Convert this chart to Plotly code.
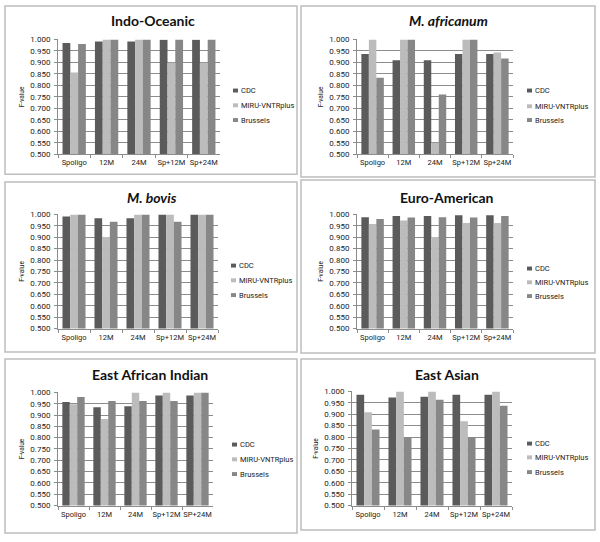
import plotly.graph_objects as go

W, H = 600, 542

categories = ["Spoligo", "12M", "24M", "Sp+12M", "Sp+24M"]
tick_labels_eai = ["Spoligo", "12M", "24M", "Sp+12M", "SP+24M"]
series_names = ["CDC", "MIRU-VNTRplus", "Brussels"]

panel_titles = ["<b>Indo-Oceanic</b>", "<b><i>M. africanum</i></b>", "<b><i>M. bovis</i></b>",
                "<b>Euro-American</b>", "<b>East African Indian</b>", "<b>East Asian</b>"]

indo_cdc = [0.984, 0.991, 0.991, 0.998, 0.998]
indo_miru = [0.856, 1.000, 1.000, 0.899, 0.899]
indo_bru = [0.980, 1.000, 1.000, 1.000, 1.000]

afr_cdc = [0.937, 0.909, 0.909, 0.937, 0.937]
afr_miru = [1.000, 1.000, 0.551, 1.000, 0.943]
afr_bru = [0.833, 1.000, 0.761, 1.000, 0.917]

bovis_cdc = [0.991, 0.983, 0.983, 1.000, 1.000]
bovis_miru = [1.000, 0.901, 1.000, 1.000, 1.000]
bovis_bru = [1.000, 0.968, 1.000, 0.968, 1.000]

euro_cdc = [0.988, 0.993, 0.993, 0.997, 0.997]
euro_miru = [0.958, 0.974, 0.901, 0.963, 0.963]
euro_bru = [0.980, 0.987, 0.988, 0.987, 0.993]

eai_cdc = [0.958, 0.935, 0.939, 0.987, 0.987]
eai_miru = [0.948, 0.883, 1.000, 1.000, 1.000]
eai_bru = [0.980, 0.962, 0.962, 0.962, 1.000]

ea_cdc = [0.986, 0.974, 0.977, 0.986, 0.986]
ea_miru = [0.909, 1.000, 1.000, 0.869, 1.000]
ea_bru = [0.833, 0.799, 0.964, 0.799, 0.937]

panel_data = [
    (indo_cdc, indo_miru, indo_bru),
    (afr_cdc, afr_miru, afr_bru),
    (bovis_cdc, bovis_miru, bovis_bru),
    (euro_cdc, euro_miru, euro_bru),
    (eai_cdc, eai_miru, eai_bru),
    (ea_cdc, ea_miru, ea_bru),
]
panel_ticks = [categories, categories, categories, categories, tick_labels_eai, categories]

colors = ["#5b5b5b", "#bcbcbc", "#878787"]

# pixel layout: plot area (x0, x1, y0, y1), title center, legend key x / entry rows, panel border
plot_px = [(58, 220, 36, 153), (357, 513, 36, 153),
           (58, 218, 214, 330), (357, 513, 214, 330),
           (58, 213, 395, 510), (352, 512, 394, 510)]
title_px = [(153, 17), (448, 17), (152, 197), (447, 197), (150, 377), (447, 377)]
legend_key_x = [233, 527, 231, 527, 232, 527]
legend_rows = [(88, 103, 118), (88, 104, 118), (266, 281, 296),
               (269, 283, 297), (448, 463, 478), (447, 461, 476)]
border_px = [(5, 297, 2, 173), (301, 595, 2, 176),
             (5, 297, 181, 354), (301, 595, 179, 355),
             (5, 297, 361, 538), (301, 595, 361, 535)]

def px(x):
    return x / W

def py(y):
    return 1 - y / H

fig = go.Figure()
FONT = "Lato, Open Sans, sans-serif"
SMALL = "Roboto, Liberation Sans, sans-serif"
layout = dict(width=W, height=H, margin=dict(l=0, r=0, t=0, b=0),
              paper_bgcolor="white", plot_bgcolor="white",
              barmode="group", bargap=0.28, bargroupgap=0,
              font=dict(family=FONT, color="#222"), showlegend=False,
              annotations=[], shapes=[])

for i in range(6):
    n = "" if i == 0 else str(i + 1)
    for s in range(3):
        fig.add_trace(go.Bar(
            x=categories, y=panel_data[i][s], name=series_names[s],
            marker=dict(color=colors[s], line=dict(width=0)),
            xaxis="x" + n, yaxis="y" + n,
        ))
    x0, x1, y0, y1 = plot_px[i]
    layout["xaxis" + n] = dict(
        domain=[px(x0), px(x1)], anchor="y" + n, type="category",
        tickvals=categories, ticktext=panel_ticks[i], tickangle=0,
        tickfont=dict(size=7.5, family=SMALL, color="#222"),
        showline=True, linecolor="#8c8c8c", linewidth=1,
        ticks="outside", tickson="boundaries", ticklen=3, tickcolor="#8c8c8c",
        ticklabelstandoff=1,
        showgrid=False, fixedrange=True,
    )
    layout["yaxis" + n] = dict(
        domain=[py(y1), py(y0)], anchor="x" + n, range=[0.5, 1.0],
        dtick=0.05, tick0=0.5, tickformat=".3f",
        tickfont=dict(size=8, family=SMALL, color="#222"),
        showline=True, linecolor="#8c8c8c", linewidth=1,
        ticks="outside", ticklen=3, tickcolor="#8c8c8c",
        ticklabelstandoff=2,
        showgrid=True, gridcolor="#8c8c8c", gridwidth=1,
        title=dict(text="F-value", font=dict(size=6.5, family=SMALL, color="#222"), standoff=5),
        zeroline=False, fixedrange=True,
    )
    # legend (key squares + labels)
    kx = legend_key_x[i]
    for s in range(3):
        ry = legend_rows[i][s]
        layout["shapes"].append(dict(
            type="rect", xref="paper", yref="paper",
            x0=px(kx), x1=px(kx + 5), y0=py(ry + 2), y1=py(ry - 2),
            line=dict(width=0), fillcolor=colors[s],
        ))
        layout["annotations"].append(dict(
            text=series_names[s], x=px(kx + 6), y=py(ry), xref="paper", yref="paper",
            showarrow=False, xanchor="left", yanchor="middle",
            font=dict(size=7.5, family=SMALL, color="#222"),
        ))
    tx, ty = title_px[i]
    layout["annotations"].append(dict(
        text=panel_titles[i], x=px(tx), y=py(ty), xref="paper", yref="paper",
        showarrow=False, xanchor="center", yanchor="middle",
        font=dict(size=14, family=FONT, color="#111"),
    ))
    bx0, bx1, by0, by1 = border_px[i]
    layout["shapes"].append(dict(
        type="rect", xref="paper", yref="paper",
        x0=px(bx0), x1=px(bx1), y0=py(by1), y1=py(by0),
        line=dict(color="#bdbdbd", width=1.5),
    ))

fig.update_layout(**layout)
fig.write_html("out.html", config={"displayModeBar": False},
               post_script="document.body.style.margin='0';document.body.style.overflow='hidden';")
